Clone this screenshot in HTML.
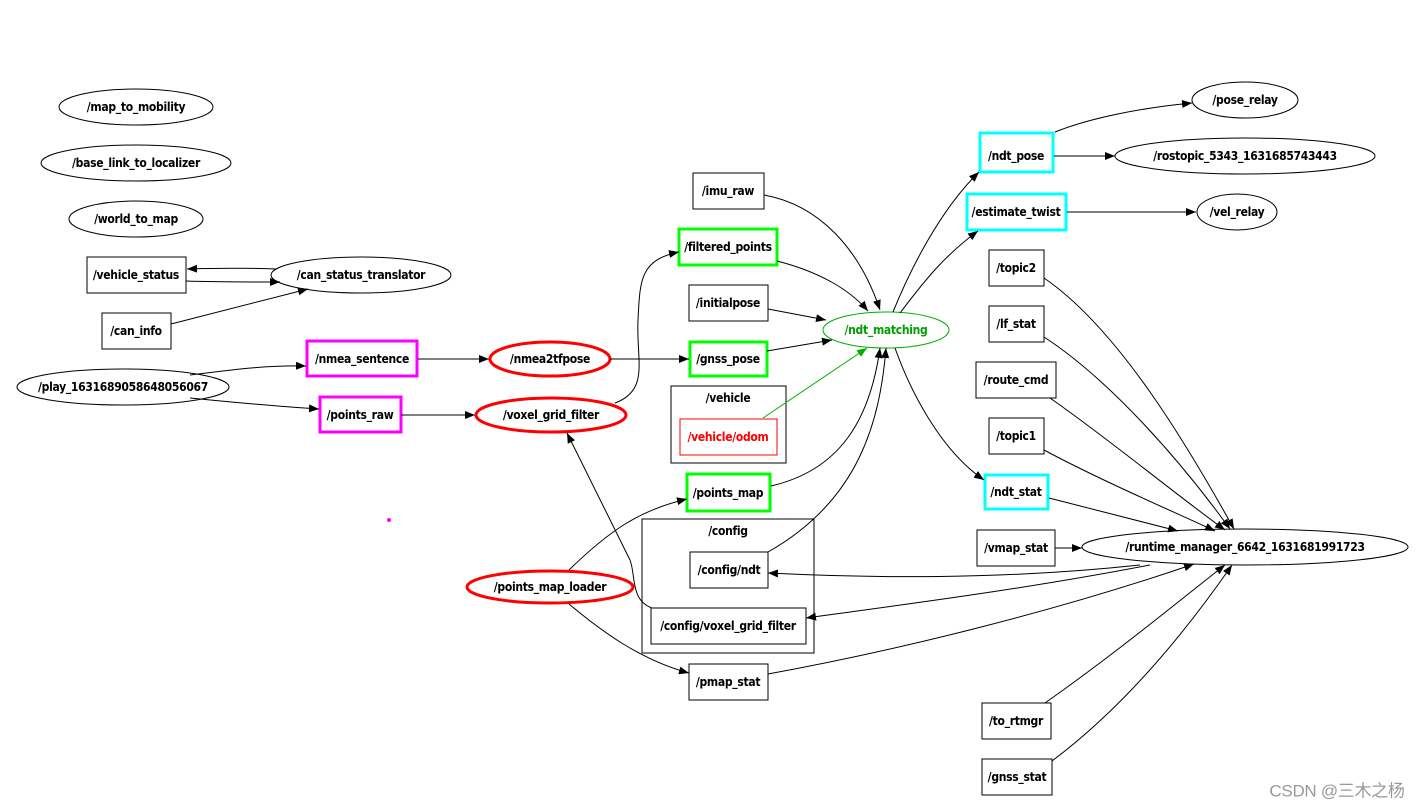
<!DOCTYPE html>
<html><head><meta charset="utf-8"><style>
html,body{margin:0;padding:0;background:#fff;width:1428px;height:809px;overflow:hidden}
svg text{font-family:"DejaVu Sans Condensed","DejaVu Sans","Liberation Sans",sans-serif;font-weight:bold;font-size:12px;text-anchor:middle;dominant-baseline:central;letter-spacing:-0.3px}
</style></head><body>
<svg width="1428" height="809" viewBox="0 0 1428 809" xmlns="http://www.w3.org/2000/svg">
<defs>
<marker id="a" viewBox="0 0 10 10" refX="10" refY="5" markerWidth="10" markerHeight="10" markerUnits="userSpaceOnUse" orient="auto"><path d="M0,1 L10,5 L0,9 z" fill="#000"/></marker>
<marker id="g" viewBox="0 0 10 10" refX="10" refY="5" markerWidth="10" markerHeight="10" markerUnits="userSpaceOnUse" orient="auto"><path d="M0,1 L10,5 L0,9 z" fill="#00b000"/></marker>
</defs>
<g fill="none" stroke="#000" stroke-width="1">
<!-- clusters -->
<rect x="671" y="386" width="115" height="77"/>
<rect x="642" y="519" width="172" height="134"/>
<!-- ellipses -->
<ellipse cx="136" cy="107" rx="77" ry="18"/>
<ellipse cx="136" cy="163" rx="95" ry="18"/>
<ellipse cx="136" cy="219" rx="67" ry="18"/>
<ellipse cx="361" cy="275" rx="90" ry="18"/>
<ellipse cx="123" cy="387" rx="106" ry="18"/>
<ellipse cx="1245" cy="100" rx="53" ry="18"/>
<ellipse cx="1245" cy="156" rx="130" ry="18"/>
<ellipse cx="1237" cy="212" rx="40" ry="18"/>
<ellipse cx="1245" cy="547" rx="163" ry="18"/>
<ellipse cx="886" cy="330" rx="63" ry="18" stroke="#00b000"/>
<g stroke="#f00" stroke-width="3">
<ellipse cx="550" cy="359" rx="60" ry="17"/>
<ellipse cx="551" cy="415" rx="75" ry="17"/>
<ellipse cx="550" cy="587" rx="83" ry="16"/>
</g>
<!-- boxes -->
<rect x="87" y="257" width="99" height="36"/>
<rect x="102" y="313" width="69" height="36"/>
<rect x="693" y="173" width="71" height="36"/>
<rect x="689" y="285" width="79" height="36"/>
<rect x="690" y="552" width="78" height="36"/>
<rect x="651" y="608" width="155" height="36"/>
<rect x="689" y="664" width="79" height="36"/>
<rect x="989" y="250" width="55" height="36"/>
<rect x="989" y="306" width="55" height="36"/>
<rect x="976" y="362" width="80" height="36"/>
<rect x="989" y="418" width="55" height="36"/>
<rect x="977" y="530" width="78" height="36"/>
<rect x="982" y="703" width="69" height="36"/>
<rect x="982" y="759" width="70" height="36"/>
<rect x="680" y="419" width="97" height="36" stroke="#f00"/>
<g stroke="#f0f" stroke-width="3">
<rect x="307" y="341" width="110" height="35"/>
<rect x="320" y="397" width="81" height="35"/>
</g>
<g stroke="#0f0" stroke-width="3">
<rect x="679" y="229" width="98" height="36"/>
<rect x="690" y="342" width="77" height="34"/>
<rect x="687" y="474" width="83" height="37"/>
</g>
<g stroke="#0ff" stroke-width="3">
<rect x="980" y="133" width="73" height="39"/>
<rect x="967" y="194" width="99" height="36"/>
<rect x="985" y="475" width="63" height="34"/>
</g>
<!-- edges -->
<path d="M276,269 C250,268 220,268 187,269" marker-end="url(#a)"/>
<path d="M186,281 C215,282 245,282 280,282" marker-end="url(#a)"/>
<path d="M171,324 C215,313 260,301 308,289" marker-end="url(#a)"/>
<path d="M190,375 C230,370 265,365 306,366" marker-end="url(#a)"/>
<path d="M190,398 C230,402 270,406 319,409" marker-end="url(#a)"/>
<path d="M418,359 L489,359" marker-end="url(#a)"/>
<path d="M401,415 L475,415" marker-end="url(#a)"/>
<path d="M610,359 L689,359" marker-end="url(#a)"/>
<path d="M615,403 C650,390 636,360 638,320 C640,280 640,260 679,252" marker-end="url(#a)"/>
<path d="M764,195 C820,205 860,250 880,310" marker-end="url(#a)"/>
<path d="M777,261 C820,272 850,290 868,311" marker-end="url(#a)"/>
<path d="M768,309 L826,320" marker-end="url(#a)"/>
<path d="M767,351 L832,340" marker-end="url(#a)"/>
<path d="M763,418 L867,348" stroke="#00b000" marker-end="url(#g)"/>
<path d="M771,486 C840,470 870,420 880,348" marker-end="url(#a)"/>
<path d="M768,552 C860,500 880,420 886,348" marker-end="url(#a)"/>
<path d="M569,570 C610,530 640,510 687,499" marker-end="url(#a)"/>
<path d="M569,604 C600,630 640,660 689,673" marker-end="url(#a)"/>
<path d="M652,608 C630,600 636,575 630,560 C610,520 590,480 567,433" marker-end="url(#a)"/>
<path d="M893,312 C910,270 940,210 979,172" marker-end="url(#a)"/>
<path d="M900,313 C925,280 945,255 978,231" marker-end="url(#a)"/>
<path d="M895,348 C910,390 940,450 984,480" marker-end="url(#a)"/>
<path d="M1055,132 C1090,118 1140,108 1192,103" marker-end="url(#a)"/>
<path d="M1054,156 L1115,156" marker-end="url(#a)"/>
<path d="M1067,212 L1196,212" marker-end="url(#a)"/>
<path d="M1044,278 C1120,330 1190,450 1234,529" marker-end="url(#a)"/>
<path d="M1044,337 C1110,380 1180,460 1230,529" marker-end="url(#a)"/>
<path d="M1050,398 C1110,440 1170,490 1225,530" marker-end="url(#a)"/>
<path d="M1044,450 C1100,480 1170,510 1215,531" marker-end="url(#a)"/>
<path d="M1049,498 L1178,531" marker-end="url(#a)"/>
<path d="M1055,548 L1082,548" marker-end="url(#a)"/>
<path d="M1140,565 C1000,580 870,578 768,573" marker-end="url(#a)"/>
<path d="M1150,565 C1020,590 900,605 806,618" marker-end="url(#a)"/>
<path d="M768,674 C900,650 1060,610 1194,564" marker-end="url(#a)"/>
<path d="M1045,703 C1120,650 1180,600 1225,565" marker-end="url(#a)"/>
<path d="M1052,761 C1120,710 1180,640 1232,565" marker-end="url(#a)"/>
</g>
<circle cx="389" cy="520" r="2" fill="#f0f"/>
<g fill="#000">
<text x="136" y="107">/map_to_mobility</text>
<text x="136" y="163">/base_link_to_localizer</text>
<text x="136" y="219">/world_to_map</text>
<text x="136" y="275">/vehicle_status</text>
<text x="361" y="275">/can_status_translator</text>
<text x="136" y="331">/can_info</text>
<text x="123" y="387">/play_1631689058648056067</text>
<text x="362" y="359">/nmea_sentence</text>
<text x="360" y="415">/points_raw</text>
<text x="550" y="359">/nmea2tfpose</text>
<text x="551" y="415">/voxel_grid_filter</text>
<text x="550" y="587">/points_map_loader</text>
<text x="728" y="191">/imu_raw</text>
<text x="728" y="247">/filtered_points</text>
<text x="728" y="303">/initialpose</text>
<text x="728" y="359">/gnss_pose</text>
<text x="728" y="398">/vehicle</text>
<text x="728" y="493">/points_map</text>
<text x="728" y="531">/config</text>
<text x="729" y="570">/config/ndt</text>
<text x="728" y="626">/config/voxel_grid_filter</text>
<text x="728" y="682">/pmap_stat</text>
<text x="1016" y="156">/ndt_pose</text>
<text x="1016" y="212">/estimate_twist</text>
<text x="1016" y="268">/topic2</text>
<text x="1016" y="324">/lf_stat</text>
<text x="1016" y="380">/route_cmd</text>
<text x="1016" y="436">/topic1</text>
<text x="1016" y="492">/ndt_stat</text>
<text x="1016" y="548">/vmap_stat</text>
<text x="1016" y="721">/to_rtmgr</text>
<text x="1017" y="777">/gnss_stat</text>
<text x="1245" y="100">/pose_relay</text>
<text x="1245" y="156">/rostopic_5343_1631685743443</text>
<text x="1237" y="212">/vel_relay</text>
<text x="1245" y="547">/runtime_manager_6642_1631681991723</text>
</g>
<text x="886" y="330" fill="#00a000">/ndt_matching</text>
<text x="728" y="437" fill="#f00">/vehicle/odom</text>
<text x="1337" y="791" fill="#999" style="font-weight:normal;font-size:17px;font-family:'Liberation Sans','Noto Sans CJK SC',sans-serif">CSDN @三木之杨</text>
</svg>
</body></html>
